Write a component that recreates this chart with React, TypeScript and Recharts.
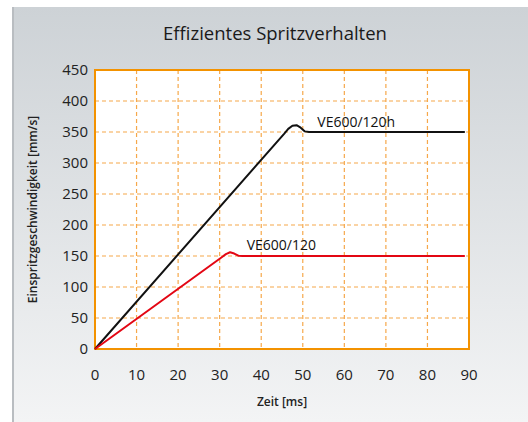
import React from 'react';
import {
	CartesianGrid,
	Label,
	Line,
	LineChart,
	ReferenceArea,
	ReferenceDot,
	XAxis,
	YAxis,
} from 'recharts';

// Zeit [ms] / Einspritzgeschwindigkeit [mm/s]
const timeH = [0, 45.5, 46.5, 47.5, 48.5, 49.5, 50.5, 51.5, 89];
const speedH = [0, 347, 355, 360, 361, 357, 351, 350, 350];
const time = [0, 30.5, 31.5, 32.5, 33.5, 34.5, 35.5, 89];
const speed = [0, 148, 153, 156, 154, 150.5, 150, 150];

const xTicks = [0, 10, 20, 30, 40, 50, 60, 70, 80, 90];
const yTicks = [0, 50, 100, 150, 200, 250, 300, 350, 400, 450];

const ve120h = timeH.map((x, i) => ({ x, y: speedH[i] }));
const ve120 = time.map((x, i) => ({ x, y: speed[i] }));

const ORANGE = '#f39200';
const GRID = '#f6a84a';
const FONT = '"Open Sans", "Noto Sans", sans-serif';

const App = () => {
	return (
		<div
			style={{
				position: 'absolute',
				left: 0,
				top: 0,
				width: 528,
				height: 422,
				background: '#fff',
				fontFamily: FONT,
			}}
		>
			<div
				style={{
					position: 'absolute',
					left: 12,
					top: 7,
					width: 516,
					height: 415,
					borderLeft: '2px solid #b9bdc1',
					boxSizing: 'border-box',
					background: 'linear-gradient(#cdd2d6, #f3f4f5)',
				}}
			/>
			<div
				style={{
					position: 'absolute',
					left: 0,
					top: 20,
					width: 550,
					textAlign: 'center',
					fontSize: 18.5,
					color: '#1a1a1a',
				}}
			>
				Effizientes Spritzverhalten
			</div>
			<LineChart
				width={528}
				height={422}
				margin={{ top: 70, right: 59, bottom: 0, left: 0 }}
				style={{ position: 'absolute', left: 0, top: 0, fontFamily: FONT }}
			>
				<CartesianGrid
					fill="#fff"
					stroke={GRID}
					strokeDasharray="4 3"
					strokeWidth={1.2}
				/>
				<XAxis
					type="number"
					dataKey="x"
					domain={[0, 90]}
					ticks={xTicks}
					height={73}
					axisLine={false}
					tickLine={false}
					tickSize={0}
					tickMargin={20}
					tick={{ fill: '#222', fontSize: 15 }}
				>
					<Label
						value="Zeit [ms]"
						position="insideBottom"
						offset={16}
						style={{ fill: '#222', fontSize: 12, fontWeight: 600 }}
					/>
				</XAxis>
				<YAxis
					type="number"
					domain={[0, 450]}
					ticks={yTicks}
					width={95}
					axisLine={false}
					tickLine={false}
					tickSize={0}
					tickMargin={7}
					tick={{ fill: '#222', fontSize: 15 }}
				>
					<Label
						value="Einspritzgeschwindigkeit [mm/s]"
						angle={-90}
						position="insideLeft"
						offset={33}
						style={{ fill: '#222', fontSize: 12, fontWeight: 600, textAnchor: 'middle' }}
					/>
				</YAxis>
				<ReferenceArea
					x1={0}
					x2={90}
					y1={0}
					y2={450}
					fill="none"
					stroke={ORANGE}
					strokeWidth={2}
				/>
				<Line
					data={ve120h}
					dataKey="y"
					type="linear"
					stroke="#111"
					strokeWidth={2}
					strokeLinejoin="round"
					dot={false}
					isAnimationActive={false}
				/>
				<Line
					data={ve120}
					dataKey="y"
					type="linear"
					stroke="#e30613"
					strokeWidth={2}
					strokeLinejoin="round"
					dot={false}
					isAnimationActive={false}
				/>
				<ReferenceDot
					x={53.5}
					y={366}
					r={0}
					fill="none"
					stroke="none"
					label={{ value: 'VE600/120h', position: 'right', offset: 0, fill: '#111', fontSize: 14 }}
				/>
				<ReferenceDot
					x={36.5}
					y={168}
					r={0}
					fill="none"
					stroke="none"
					label={{ value: 'VE600/120', position: 'right', offset: 0, fill: '#111', fontSize: 14 }}
				/>
			</LineChart>
		</div>
	);
};

export default App;
